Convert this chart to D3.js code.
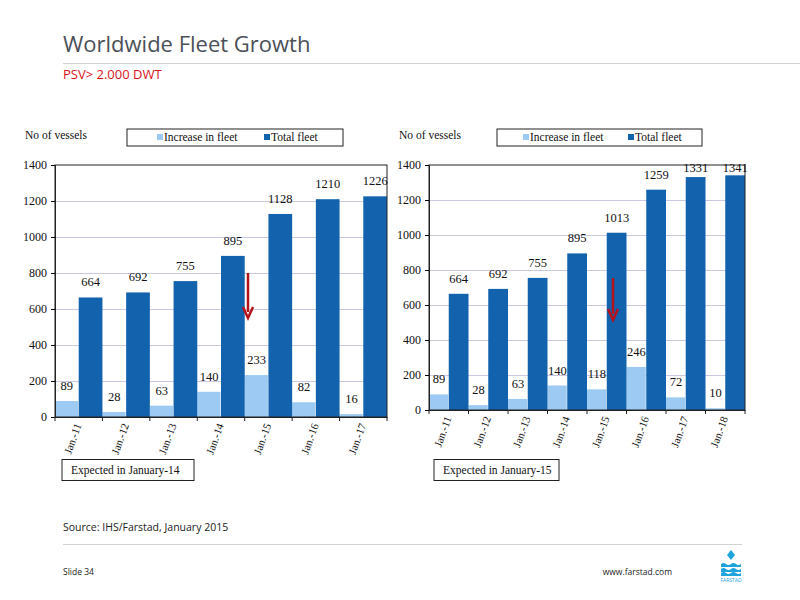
<!DOCTYPE html>
<html><head><meta charset="utf-8">
<script src="https://cdn.jsdelivr.net/npm/d3@7"></script>
<style>body{margin:0;background:#fff}svg{display:block}</style>
</head><body>
<script>
const catsLeft = ["Jan.-11","Jan.-12","Jan.-13","Jan.-14","Jan.-15","Jan.-16","Jan.-17"];
const increaseLeft = [89,28,63,140,233,82,16];
const totalLeft = [664,692,755,895,1128,1210,1226];
const catsRight = ["Jan.-11","Jan.-12","Jan.-13","Jan.-14","Jan.-15","Jan.-16","Jan.-17","Jan.-18"];
const increaseRight = [89,28,63,140,118,246,72,10];
const totalRight = [664,692,755,895,1013,1259,1331,1341];
const yTicks = [0,200,400,600,800,1000,1200,1400];
const seriesNames = ["Increase in fleet","Total fleet"];

const LIGHT = "#9ccaf2", DARK = "#1262ae", GRID = "#c9c9e4";
const serif = "'Liberation Serif','Times New Roman',serif";
const sans = "'Open Sans','Noto Sans',sans-serif";

const svg = d3.select("body").append("svg").attr("width",800).attr("height",600);

// Header
svg.append("text").attr("x",63).attr("y",52).attr("font-family",sans).attr("font-size",22)
  .attr("fill","#4b5058").text("Worldwide Fleet Growth");
svg.append("line").attr("x1",63).attr("x2",800).attr("y1",63.5).attr("y2",63.5).attr("stroke","#cfd2d6");
svg.append("text").attr("x",63).attr("y",79).attr("font-family",sans).attr("font-size",13)
  .attr("fill","#d9141b").text("PSV> 2.000 DWT");

function chart(cfg){
  const {x0,x1,y0,y1,cats,inc,tot,legend,box,arrow} = cfg;
  const g = svg.append("g");
  const x = d3.scaleBand().domain(cats).range([x0,x1]).padding(0);
  const y = d3.scaleLinear().domain([0,1400]).range([y1,y0]);
  const bw = x.bandwidth();
  // grid
  g.selectAll(".grid").data(yTicks.filter(d=>d>0 && d<1400)).join("line")
    .attr("x1",x0).attr("x2",x1).attr("y1",d=>Math.round(y(d))+0.5).attr("y2",d=>Math.round(y(d))+0.5)
    .attr("stroke",GRID).attr("stroke-width",1);
  // bars
  g.selectAll(".inc").data(cats).join("rect")
    .attr("x",(d)=>x(d)).attr("width",bw/2-0.5)
    .attr("y",(d,i)=>y(inc[i])).attr("height",(d,i)=>y1-y(inc[i])).attr("fill",LIGHT);
  g.selectAll(".tot").data(cats).join("rect")
    .attr("x",(d)=>x(d)+bw/2).attr("width",bw/2)
    .attr("y",(d,i)=>y(tot[i])).attr("height",(d,i)=>y1-y(tot[i])).attr("fill",DARK);
  // frame
  g.append("rect").attr("x",x0).attr("y",y0).attr("width",x1-x0).attr("height",y1-y0)
    .attr("fill","none").attr("stroke","#222").attr("stroke-width",1);
  // axes
  const ya = g.append("g").attr("transform",`translate(${x0},0)`)
    .call(d3.axisLeft(y).tickValues(yTicks).tickSize(4).tickFormat(d3.format("d")));
  ya.select(".domain").attr("stroke","#222");
  ya.selectAll("text").attr("font-family",serif).attr("font-size",12).attr("fill","#111").attr("dx",-1);
  const xa = g.append("g").attr("transform",`translate(0,${y1})`)
    .call(d3.axisBottom(x).tickSize(0).tickFormat(""));
  xa.select(".domain").attr("stroke","#222");
  g.selectAll(".xt").data(cats.concat(["__end"])).join("line")
    .attr("x1",(d,i)=>x0+i*bw).attr("x2",(d,i)=>x0+i*bw).attr("y1",y1).attr("y2",y1+4).attr("stroke","#222");
  g.selectAll(".xl").data(cats).join("text")
    .attr("transform",d=>`translate(${x(d)+bw/2+3},${y1+8}) rotate(-70)`)
    .attr("text-anchor","end").attr("font-family",serif).attr("font-size",11).attr("fill","#111").text(d=>d);
  // labels
  const lab = (v,cx)=>g.append("text").attr("x",cx).attr("y",Math.max(y(v)-11, y0+7))
    .attr("text-anchor","middle").attr("font-family",serif).attr("font-size",12.5).attr("fill","#111").text(v);
  cats.forEach((c,i)=>{ lab(inc[i], x(c)+bw/4); lab(tot[i], x(c)+bw*3/4); });
  // y title
  g.append("text").attr("x",cfg.tx).attr("y",139).attr("font-family",serif).attr("font-size",11.5).attr("fill","#111").text("No of vessels");
  // legend
  g.append("rect").attr("x",legend[0]).attr("y",129).attr("width",legend[1]-legend[0]).attr("height",17)
    .attr("fill","#fff").attr("stroke","#222");
  const lx = legend[0] + cfg.lo[0];
  g.append("rect").attr("x",lx-7).attr("y",134).attr("width",6).attr("height",6).attr("fill",LIGHT);
  g.append("text").attr("x",lx).attr("y",141).attr("font-family",serif).attr("font-size",11.5).attr("fill","#111").text(seriesNames[0]);
  const lx2 = legend[0] + cfg.lo[1];
  g.append("rect").attr("x",lx2-7).attr("y",134).attr("width",6).attr("height",6).attr("fill",DARK);
  g.append("text").attr("x",lx2).attr("y",141).attr("font-family",serif).attr("font-size",11.5).attr("fill","#111").text(seriesNames[1]);
  // expected box
  g.append("rect").attr("x",box[0]).attr("y",459.5).attr("width",box[1]-box[0]).attr("height",21)
    .attr("fill","#fff").attr("stroke","#222");
  g.append("text").attr("x",box[0]+9).attr("y",474).attr("font-family",serif).attr("font-size",11.5).attr("fill","#111").text(cfg.boxText);
  // arrow
  g.append("line").attr("x1",arrow[0]).attr("x2",arrow[0]).attr("y1",arrow[1]).attr("y2",arrow[2]-6)
    .attr("stroke","#b5121b").attr("stroke-width",2.5);
  g.append("path").attr("d",`M${arrow[0]-5},${arrow[2]-11} L${arrow[0]},${arrow[2]} L${arrow[0]+5},${arrow[2]-11}`)
    .attr("fill","none").attr("stroke","#b5121b").attr("stroke-width",2.5);
}

chart({x0:55,x1:387,y0:165,y1:417,cats:catsLeft,inc:increaseLeft,tot:totalLeft,
  legend:[127,343],lo:[37,144],box:[62,194],boxText:"Expected in January-14",arrow:[248,273,318],tx:25});
chart({x0:429,x1:745,y0:165,y1:410,cats:catsRight,inc:increaseRight,tot:totalRight,
  legend:[497,702],lo:[33,138],box:[434,559],boxText:"Expected in January-15",arrow:[613,278,320],tx:399});

// Footer
svg.append("text").attr("x",63).attr("y",531).attr("font-family",sans).attr("font-size",10.5)
  .attr("fill","#222").text("Source: IHS/Farstad, January 2015");
svg.append("line").attr("x1",63).attr("x2",742).attr("y1",544.5).attr("y2",544.5).attr("stroke","#cfd2d6");
svg.append("text").attr("x",63).attr("y",575).attr("font-family",sans).attr("font-size",8.5)
  .attr("fill","#222").text("Slide 34");
svg.append("text").attr("x",672).attr("y",575).attr("text-anchor","end").attr("font-family",sans).attr("font-size",8.5)
  .attr("fill","#222").text("www.farstad.com");
// logo
const lg = svg.append("g").attr("transform","translate(731,0)");
lg.append("path").attr("d","M0,550 L4,555 L0,560 L-4,555 Z").attr("fill","#1ea3dc");
[564,569,573].forEach(yy=>lg.append("path")
  .attr("d",`M-10,${yy} Q-7.5,${yy-2} -5,${yy} Q-2.5,${yy+2} 0,${yy} Q2.5,${yy-2} 5,${yy} Q7.5,${yy+2} 10,${yy} L10,${yy+3} L-10,${yy+3} Z`)
  .attr("fill","#1ea3dc"));
lg.append("text").attr("x",0).attr("y",582).attr("text-anchor","middle").attr("font-family",sans)
  .attr("font-size",5).attr("fill","#1ea3dc").text("FARSTAD");
</script>
</body></html>
